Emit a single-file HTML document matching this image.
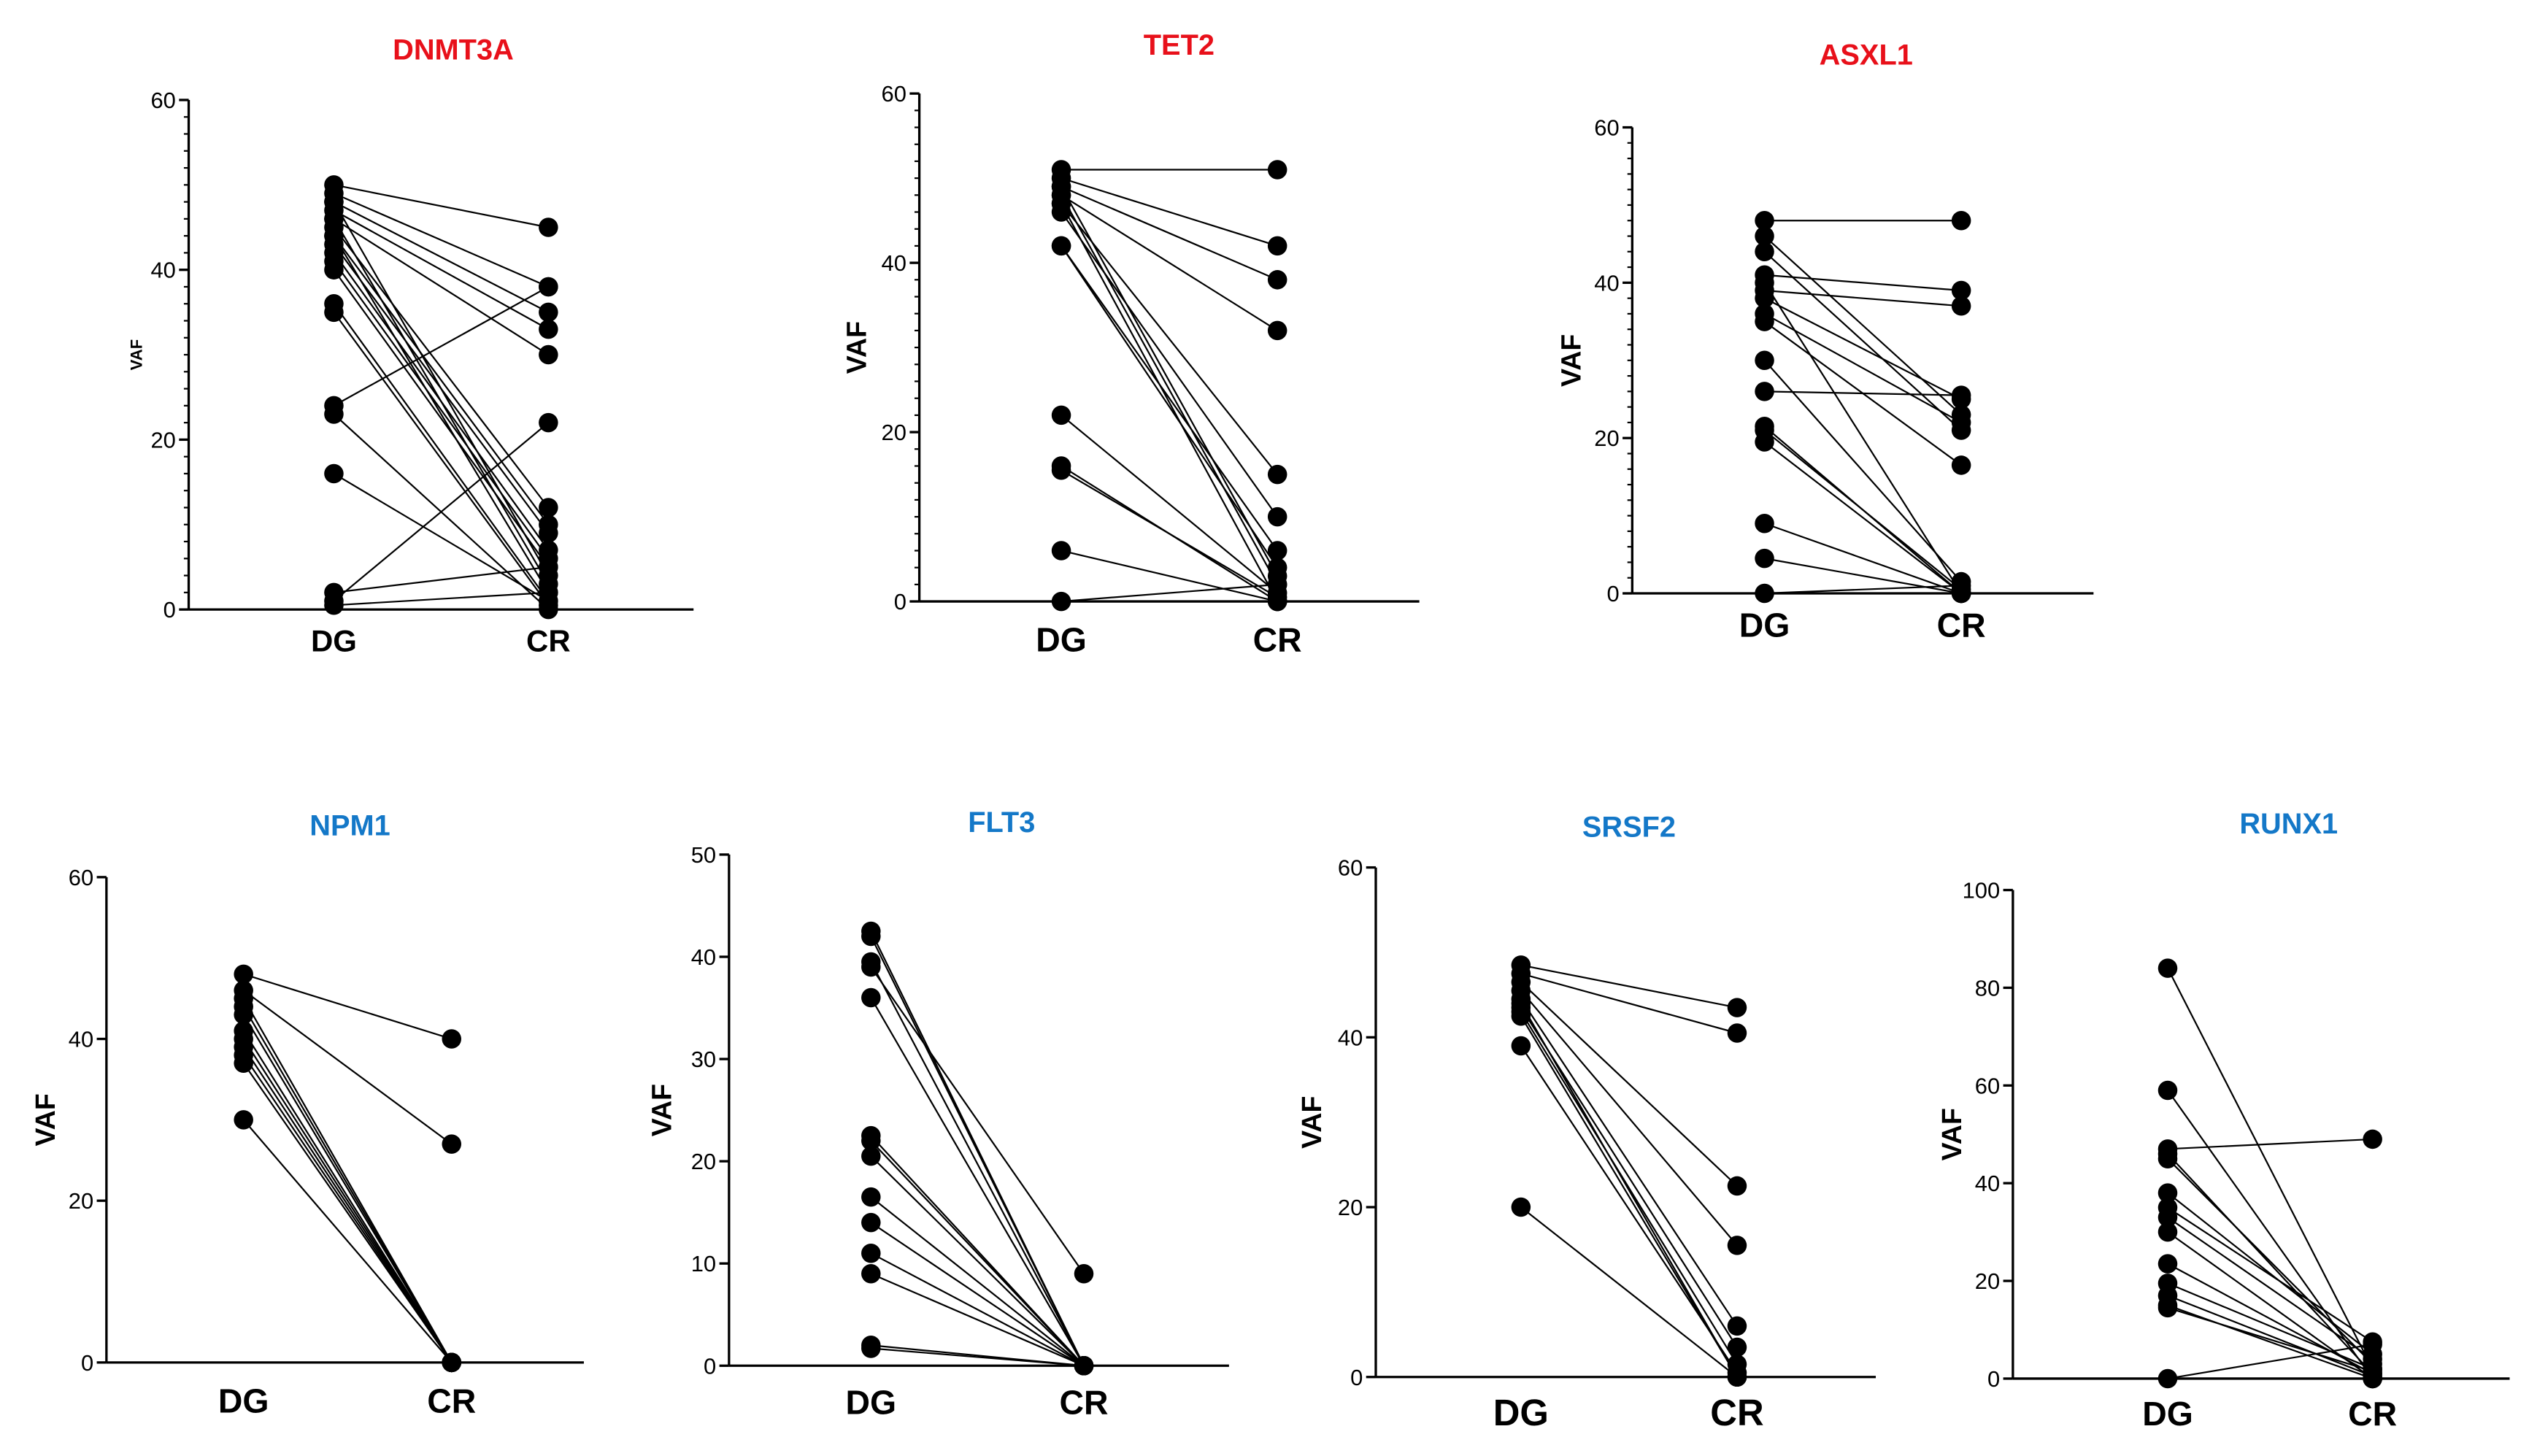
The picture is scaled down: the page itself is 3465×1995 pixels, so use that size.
<!DOCTYPE html>
<html><head><meta charset="utf-8"><style>
html,body{margin:0;padding:0;background:#fff}
svg{display:block}
text{font-family:"Liberation Sans",Arial,sans-serif}
</style></head><body>
<svg id="fig" width="3465" height="1995" viewBox="0 0 1568 903" preserveAspectRatio="none" xmlns="http://www.w3.org/2000/svg"></svg>
<script>
// Data per panel: DG and CR values (paired)
const dnmt3aDG=[50,49,48,47,46,45,44,43,42,41,40,48,46,44,36,35,24,23,16,2,1,0.5];
const dnmt3aCR=[45,38,35,33,30,12,10,9,7,6,5,4,3,2,1,0.5,38,0,1,5,22,2];
const tet2DG=[51,50,49,48,47,46,42,42,48,22,16,15.5,6,0,49,47];
const tet2CR=[51,42,38,32,15,10,6,4,2,1,0,0.5,0,2,3,0];
const asxl1DG=[48,46,44,41,39,38,36,35,30,26,21.5,21,19.5,9,4.5,0,40];
const asxl1CR=[48,23,21,39,37,25,22,16.5,1.5,25.5,0,0.5,0,0,0,1,0];
const npm1DG=[48,46,45,44,43,41,40,39,38,37,30];
const npm1CR=[40,27,0,0,0,0,0,0,0,0,0];
const flt3DG=[42.5,42,39.5,39,36,22.5,22,20.5,16.5,14,11,9,2,1.7];
const flt3CR=[0,0,0,9,0,0,0,0,0,0,0,0,0,0];
const srsf2DG=[48.5,47.5,46.5,45.5,44.5,43.5,43,42.5,39,20,44];
const srsf2CR=[43.5,40.5,22.5,15.5,6,3.5,1.5,0,0.5,0,0];
const runx1DG=[84,59,47,46,45,38,35,33,30,23.5,19.5,17,15,14.5,0];
const runx1CR=[2,0,49,1,3,5,7.5,4,0,1,2,0.5,0,1.5,7];
const categories=["DG","CR"];

const panels=[
 {name:"DNMT3A",color:"#e8101a",dg:dnmt3aDG,cr:dnmt3aCR,ax:117,y0:378,yTop:62,max:60,step:20,minor:2,xDG:207,xCR:340,xEnd:430,tx:281,ty:37,vafX:88,vafSize:10,catY:404,catSize:19,tick:14},
 {name:"TET2",color:"#e8101a",dg:tet2DG,cr:tet2CR,ax:570,y0:373,yTop:58,max:60,step:20,minor:2,xDG:658,xCR:792,xEnd:880,tx:731,ty:34,vafX:537,vafSize:17,catY:404,catSize:21,tick:14},
 {name:"ASXL1",color:"#e8101a",dg:asxl1DG,cr:asxl1CR,ax:1012,y0:368,yTop:79,max:60,step:20,minor:2,xDG:1094,xCR:1216,xEnd:1298,tx:1157,ty:40,vafX:980,vafSize:17,catY:395,catSize:21,tick:14},
 {name:"NPM1",color:"#1478c8",dg:npm1DG,cr:npm1CR,ax:66,y0:845,yTop:544,max:60,step:20,minor:0,xDG:151,xCR:280,xEnd:362,tx:217,ty:518,vafX:34,vafSize:17,catY:876,catSize:21,tick:14},
 {name:"FLT3",color:"#1478c8",dg:flt3DG,cr:flt3CR,ax:452,y0:847,yTop:530,max:50,step:10,minor:0,xDG:540,xCR:672,xEnd:762,tx:621,ty:516,vafX:416,vafSize:17,catY:877,catSize:21,tick:14},
 {name:"SRSF2",color:"#1478c8",dg:srsf2DG,cr:srsf2CR,ax:853,y0:854,yTop:538,max:60,step:20,minor:0,xDG:943,xCR:1077,xEnd:1163,tx:1010,ty:519,vafX:819,vafSize:17,catY:884,catSize:23,tick:14},
 {name:"RUNX1",color:"#1478c8",dg:runx1DG,cr:runx1CR,ax:1248,y0:855,yTop:552,max:100,step:20,minor:0,xDG:1344,xCR:1471,xEnd:1556,tx:1419,ty:517,vafX:1216,vafSize:17,catY:884,catSize:21,tick:14}
];
const NS="http://www.w3.org/2000/svg";
const svg=document.getElementById('fig');
function mk(tag,attrs,parent){const e=document.createElementNS(NS,tag);for(const k in attrs)e.setAttribute(k,attrs[k]);parent.appendChild(e);return e;}
panels.forEach(p=>{
 const g=mk('g',{},svg);
 
 
 const y=v=>p.y0-(v/p.max)*(p.y0-p.yTop);
 const t=mk('text',{x:p.tx,y:p.ty,'text-anchor':'middle','font-size':18,'font-weight':'bold',fill:p.color},g);t.textContent=p.name;
 
 
 const ya=mk('line',{x1:p.ax,y1:p.yTop,x2:p.ax,y2:p.y0,stroke:'#000','stroke-width':1.5},g);
 
 
 const xa=mk('line',{x1:p.ax,y1:p.y0,x2:p.xEnd,y2:p.y0,stroke:'#000','stroke-width':1.5},g);
 
 
 if(p.minor){for(let v=0;v<=p.max;v+=p.minor){mk('line',{x1:p.ax-3,y1:y(v),x2:p.ax,y2:y(v),stroke:'#000','stroke-width':1},g);}}
 for(let v=0;v<=p.max;v+=p.step){
  mk('line',{x1:p.ax-6,y1:y(v),x2:p.ax,y2:y(v),stroke:'#000','stroke-width':1.5},g);
  const tl=mk('text',{x:p.ax-8,y:y(v)+5,'text-anchor':'end','font-size':p.tick,fill:'#000'},g);tl.textContent=v;
  
  
 }
 const vy=(p.yTop+p.y0)/2;
 const vl=mk('text',{x:p.vafX,y:vy,'text-anchor':'middle','font-size':p.vafSize,'font-weight':'bold',transform:`rotate(-90 ${p.vafX} ${vy})`},g);vl.textContent='VAF';
 
 
 [p.xDG,p.xCR].forEach((x,i)=>{const c=mk('text',{x:x,y:p.catY,'text-anchor':'middle','font-size':p.catSize,'font-weight':'bold'},g);c.textContent=categories[i];
  
  });
 p.dg.forEach((d,i)=>{
  const l=mk('line',{x1:p.xDG,y1:y(d),x2:p.xCR,y2:y(p.cr[i]),stroke:'#000','stroke-width':1},g);
  
  
 });
 p.dg.forEach((d,i)=>{
  const a=mk('circle',{cx:p.xDG,cy:y(d),r:6,fill:'#000'},g);
  
  
  const b=mk('circle',{cx:p.xCR,cy:y(p.cr[i]),r:6,fill:'#000'},g);
  
  
 });
});
</script>
</body></html>
